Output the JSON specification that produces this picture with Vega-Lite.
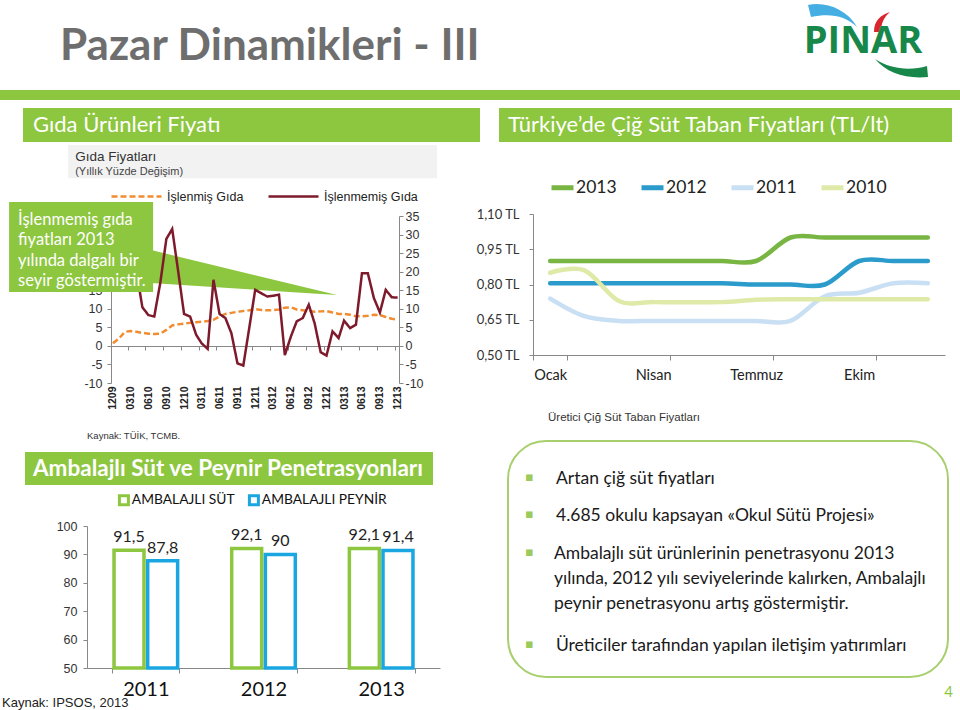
{
  "$schema": "https://vega.github.io/schema/vega-lite/v6.json",
  "padding": 0,
  "background": "white",
  "config": {
    "view": {"stroke": null},
    "concat": {"spacing": 0},
    "locale": {"number": {"decimal": ",", "thousands": ".", "grouping": [3], "currency": ["", " TL"], "minus": "-"}}
  },
  "datasets": {
    "food": [
      {"month": "2009-12-01", "islenmis": 0.7, "islenmemis": 16},
      {"month": "2010-01-01", "islenmis": 2.0, "islenmemis": 18},
      {"month": "2010-02-01", "islenmis": 3.8, "islenmemis": 22},
      {"month": "2010-03-01", "islenmis": 4.0, "islenmemis": 24},
      {"month": "2010-04-01", "islenmis": 3.8, "islenmemis": 20},
      {"month": "2010-05-01", "islenmis": 3.5, "islenmemis": 10.4},
      {"month": "2010-06-01", "islenmis": 3.3, "islenmemis": 8.3},
      {"month": "2010-07-01", "islenmis": 3.2, "islenmemis": 7.9},
      {"month": "2010-08-01", "islenmis": 3.3, "islenmemis": 17},
      {"month": "2010-09-01", "islenmis": 4.3, "islenmemis": 28.8},
      {"month": "2010-10-01", "islenmis": 5.5, "islenmemis": 31.5},
      {"month": "2010-11-01", "islenmis": 5.8, "islenmemis": 20},
      {"month": "2010-12-01", "islenmis": 6.0, "islenmemis": 8.6},
      {"month": "2011-01-01", "islenmis": 6.2, "islenmemis": 7.9},
      {"month": "2011-02-01", "islenmis": 6.4, "islenmemis": 3.0},
      {"month": "2011-03-01", "islenmis": 6.5, "islenmemis": 0.7},
      {"month": "2011-04-01", "islenmis": 6.7, "islenmemis": -0.8},
      {"month": "2011-05-01", "islenmis": 7.0, "islenmemis": 17.8},
      {"month": "2011-06-01", "islenmis": 7.9, "islenmemis": 8.6},
      {"month": "2011-07-01", "islenmis": 8.6, "islenmemis": 7.5},
      {"month": "2011-08-01", "islenmis": 8.9, "islenmemis": 3.4},
      {"month": "2011-09-01", "islenmis": 9.2, "islenmemis": -4.7},
      {"month": "2011-10-01", "islenmis": 9.4, "islenmemis": -5.3},
      {"month": "2011-11-01", "islenmis": 9.6, "islenmemis": 5},
      {"month": "2011-12-01", "islenmis": 9.9, "islenmemis": 15.1},
      {"month": "2012-01-01", "islenmis": 9.7, "islenmemis": 14.2},
      {"month": "2012-02-01", "islenmis": 9.6, "islenmemis": 13.3},
      {"month": "2012-03-01", "islenmis": 9.6, "islenmemis": 13.5},
      {"month": "2012-04-01", "islenmis": 9.8, "islenmemis": 13.8},
      {"month": "2012-05-01", "islenmis": 10.3, "islenmemis": -2.5},
      {"month": "2012-06-01", "islenmis": 10.4, "islenmemis": 2.5},
      {"month": "2012-07-01", "islenmis": 9.8, "islenmemis": 6.6},
      {"month": "2012-08-01", "islenmis": 9.6, "islenmemis": 7.5},
      {"month": "2012-09-01", "islenmis": 9.4, "islenmemis": 11.1},
      {"month": "2012-10-01", "islenmis": 9.2, "islenmemis": 6.1},
      {"month": "2012-11-01", "islenmis": 9.3, "islenmemis": -1.7},
      {"month": "2012-12-01", "islenmis": 9.4, "islenmemis": -2.6},
      {"month": "2013-01-01", "islenmis": 9.0, "islenmemis": 3.9},
      {"month": "2013-02-01", "islenmis": 8.6, "islenmemis": 2.1},
      {"month": "2013-03-01", "islenmis": 8.6, "islenmemis": 6.8},
      {"month": "2013-04-01", "islenmis": 8.4, "islenmemis": 4.8},
      {"month": "2013-05-01", "islenmis": 8.0, "islenmemis": 5.7},
      {"month": "2013-06-01", "islenmis": 8.0, "islenmemis": 19.6},
      {"month": "2013-07-01", "islenmis": 8.1, "islenmemis": 19.6},
      {"month": "2013-08-01", "islenmis": 8.4, "islenmemis": 12.9},
      {"month": "2013-09-01", "islenmis": 8.3, "islenmemis": 9.0},
      {"month": "2013-10-01", "islenmis": 7.8, "islenmemis": 15.1},
      {"month": "2013-11-01", "islenmis": 7.3, "islenmemis": 13.1},
      {"month": "2013-12-01", "islenmis": 7.1, "islenmemis": 13.0}
    ],
    "milk": [
      {"year": "2013", "month": "Ocak", "price": 0.90},
      {"year": "2013", "month": "Şubat", "price": 0.90},
      {"year": "2013", "month": "Mart", "price": 0.90},
      {"year": "2013", "month": "Nisan", "price": 0.90},
      {"year": "2013", "month": "Mayıs", "price": 0.90},
      {"year": "2013", "month": "Haziran", "price": 0.90},
      {"year": "2013", "month": "Temmuz", "price": 0.90},
      {"year": "2013", "month": "Ağustos", "price": 1.00},
      {"year": "2013", "month": "Eylül", "price": 1.00},
      {"year": "2013", "month": "Ekim", "price": 1.00},
      {"year": "2013", "month": "Kasım", "price": 1.00},
      {"year": "2013", "month": "Aralık", "price": 1.00},
      {"year": "2012", "month": "Ocak", "price": 0.805},
      {"year": "2012", "month": "Şubat", "price": 0.805},
      {"year": "2012", "month": "Mart", "price": 0.805},
      {"year": "2012", "month": "Nisan", "price": 0.805},
      {"year": "2012", "month": "Mayıs", "price": 0.805},
      {"year": "2012", "month": "Haziran", "price": 0.805},
      {"year": "2012", "month": "Temmuz", "price": 0.80},
      {"year": "2012", "month": "Ağustos", "price": 0.80},
      {"year": "2012", "month": "Eylül", "price": 0.80},
      {"year": "2012", "month": "Ekim", "price": 0.90},
      {"year": "2012", "month": "Kasım", "price": 0.90},
      {"year": "2012", "month": "Aralık", "price": 0.90},
      {"year": "2011", "month": "Ocak", "price": 0.74},
      {"year": "2011", "month": "Şubat", "price": 0.665},
      {"year": "2011", "month": "Mart", "price": 0.645},
      {"year": "2011", "month": "Nisan", "price": 0.645},
      {"year": "2011", "month": "Mayıs", "price": 0.645},
      {"year": "2011", "month": "Haziran", "price": 0.645},
      {"year": "2011", "month": "Temmuz", "price": 0.645},
      {"year": "2011", "month": "Ağustos", "price": 0.645},
      {"year": "2011", "month": "Eylül", "price": 0.75},
      {"year": "2011", "month": "Ekim", "price": 0.765},
      {"year": "2011", "month": "Kasım", "price": 0.805},
      {"year": "2011", "month": "Aralık", "price": 0.805},
      {"year": "2010", "month": "Ocak", "price": 0.85},
      {"year": "2010", "month": "Şubat", "price": 0.86},
      {"year": "2010", "month": "Mart", "price": 0.73},
      {"year": "2010", "month": "Nisan", "price": 0.725},
      {"year": "2010", "month": "Mayıs", "price": 0.725},
      {"year": "2010", "month": "Haziran", "price": 0.725},
      {"year": "2010", "month": "Temmuz", "price": 0.735},
      {"year": "2010", "month": "Ağustos", "price": 0.737},
      {"year": "2010", "month": "Eylül", "price": 0.737},
      {"year": "2010", "month": "Ekim", "price": 0.737},
      {"year": "2010", "month": "Kasım", "price": 0.737},
      {"year": "2010", "month": "Aralık", "price": 0.737}
    ],
    "bars": [
      {"year": "2011", "product": "AMBALAJLI SÜT", "value": 91.5},
      {"year": "2011", "product": "AMBALAJLI PEYNİR", "value": 87.8},
      {"year": "2012", "product": "AMBALAJLI SÜT", "value": 92.1},
      {"year": "2012", "product": "AMBALAJLI PEYNİR", "value": 90},
      {"year": "2013", "product": "AMBALAJLI SÜT", "value": 92.1},
      {"year": "2013", "product": "AMBALAJLI PEYNİR", "value": 91.4}
    ]
  },
  "spacing": 0,
  "resolve": {"scale": {"color": "independent", "stroke": "independent", "strokeDash": "independent"}, "legend": {"color": "independent", "stroke": "independent", "strokeDash": "independent"}},
  "vconcat": [
    {
      "spacing": 0,
      "hconcat": [
        {"width": 60, "height": 90, "data": {"values": [{}]}, "mark": {"type": "point", "size": 0, "opacity": 0, "strokeWidth": 0}, "encoding": {}},
        {
          "width": 730, "height": 90,
          "data": {"values": [{}]},
          "mark": {"type": "text", "text": "Pazar Dinamikleri - III", "align": "left", "baseline": "alphabetic", "dy": 15, "font": "Lato", "fontSize": 44, "fontWeight": "bold", "fill": "#6E6E6E"},
          "encoding": {"x": {"datum": 0, "type": "quantitative", "scale": {"domain": [0, 1]}, "axis": null}}
        },
        {
          "width": 150, "height": 90,
          "data": {"values": [{}]},
          "layer": [
            {"mark": {"type": "point", "shape": "M-57,-40 C-40,-44 -18,-36 -8,-18 C-20,-30 -36,-32 -54,-28 Z", "size": 4, "filled": true, "fill": "#45AEE3", "strokeWidth": 0, "opacity": 1}, "encoding": {}},
            {"mark": {"type": "point", "shape": "M9,-13 C9,-25 16,-30 25,-33 C19,-28 16,-22 16,-13 Z", "size": 4, "filled": true, "fill": "#D9262E", "strokeWidth": 0, "opacity": 1}, "encoding": {}},
            {"mark": {"type": "point", "shape": "M10,14 C25,24 45,26 62,21 L63,32 C40,34 22,28 10,14 Z", "size": 4, "filled": true, "fill": "#17884A", "strokeWidth": 0, "opacity": 1}, "encoding": {}},
            {"mark": {"type": "text", "text": "PINAR", "font": "Open Sans", "fontSize": 38, "fontWeight": "bold", "fill": "#17884A", "align": "center", "baseline": "middle", "dx": -2, "dy": -3}, "encoding": {}}
          ]
        }
      ]
    },
    {"width": 960, "height": 10, "view": {"fill": "#8DC63F", "stroke": null}, "data": {"values": [{}]}, "mark": {"type": "point", "size": 0, "opacity": 0, "strokeWidth": 0}, "encoding": {}},
    {"width": 960, "height": 8, "data": {"values": [{}]}, "mark": {"type": "point", "size": 0, "opacity": 0, "strokeWidth": 0}, "encoding": {}},
    {
      "spacing": -5,
      "resolve": {"scale": {"color": "independent", "stroke": "independent", "strokeDash": "independent"}, "legend": {"color": "independent", "stroke": "independent", "strokeDash": "independent"}},
      "hconcat": [
        {
          "spacing": 0,
          "resolve": {"scale": {"color": "independent", "stroke": "independent", "strokeDash": "independent"}, "legend": {"color": "independent", "stroke": "independent", "strokeDash": "independent"}},
          "vconcat": [
            {
              "spacing": 0,
              "hconcat": [
                {"width": 23, "height": 34, "data": {"values": [{}]}, "mark": {"type": "point", "size": 0, "opacity": 0, "strokeWidth": 0}, "encoding": {}},
                {
                  "width": 457, "height": 34,
                  "view": {"fill": "#8DC63F", "stroke": null},
                  "data": {"values": [{}]},
                  "mark": {"type": "text", "text": "Gıda Ürünleri Fiyatı", "align": "left", "baseline": "middle", "dx": 10, "font": "Lato", "fontSize": 22, "fill": "white"},
                  "encoding": {"x": {"datum": 0, "type": "quantitative", "scale": {"domain": [0, 1]}, "axis": null}}
                }
              ]
            },
            {
              "width": 440, "height": 310,
              "layer": [
                {
                  "data": {"values": [{}]},
                  "mark": {"type": "rect", "fill": "#F2F2F2"},
                  "encoding": {
                    "x": {"datum": {"year": 2009, "month": 4, "date": 15, "utc": true}, "type": "temporal", "axis": null},
                    "x2": {"datum": {"year": 2014, "month": 6, "date": 21, "utc": true}},
                    "y": {"datum": 54.1, "type": "quantitative", "axis": null},
                    "y2": {"datum": 45.2}
                  }
                },
                {
                  "data": {"values": [{}]},
                  "mark": {"type": "text", "text": "Gıda Fiyatları", "align": "left", "baseline": "middle", "dx": 7, "font": "Liberation Sans", "fontSize": 13.5, "fill": "#333333"},
                  "encoding": {
                    "x": {"datum": {"year": 2009, "month": 4, "date": 15, "utc": true}, "type": "temporal", "axis": null},
                    "y": {"datum": 50.9, "type": "quantitative", "axis": null}
                  }
                },
                {
                  "data": {"values": [{}]},
                  "mark": {"type": "text", "text": "(Yıllık Yüzde Değişim)", "align": "left", "baseline": "middle", "dx": 7, "font": "Liberation Sans", "fontSize": 11, "fill": "#444444"},
                  "encoding": {
                    "x": {"datum": {"year": 2009, "month": 4, "date": 15, "utc": true}, "type": "temporal", "axis": null},
                    "y": {"datum": 46.86, "type": "quantitative", "axis": null}
                  }
                },
                {
                  "data": {"values": [{}]},
                  "mark": {"type": "text", "text": "Kaynak: TÜİK, TCMB.", "align": "left", "baseline": "middle", "font": "Liberation Sans", "fontSize": 9.5, "fill": "#333333"},
                  "encoding": {
                    "x": {"datum": {"year": 2009, "month": 7, "date": 21, "utc": true}, "type": "temporal", "axis": null},
                    "y": {"datum": -24.3, "type": "quantitative", "axis": null}
                  }
                },
                {
                  "data": {"values": [{}]},
                  "mark": {"type": "point", "shape": "M0,0 L-186,-45 L-186,-12 Z", "size": 4, "filled": true, "fill": "#8DC63F", "strokeWidth": 0, "opacity": 1},
                  "encoding": {
                    "x": {"datum": {"year": 2013, "month": 1, "date": 24, "utc": true}, "type": "temporal", "axis": null},
                    "y": {"datum": 13.7, "type": "quantitative", "axis": null}
                  }
                },
                {
                  "data": {"name": "food"},
                  "mark": {"type": "line", "strokeWidth": 2.5},
                  "encoding": {
                    "x": {
                      "field": "month", "type": "temporal",
                      "scale": {"type": "utc", "nice": false, "range": [111, 399], "domain": [{"year": 2009, "month": 11, "date": 21, "utc": true}, {"year": 2013, "month": 12, "date": 8, "utc": true}]},
                      "axis": {
                        "orient": "bottom", "offset": -69, "title": null, "grid": false, "domain": false, "ticks": false,
                        "values": [
                          {"year": 2009, "month": 12, "date": 1, "utc": true},
                          {"year": 2010, "month": 3, "date": 1, "utc": true},
                          {"year": 2010, "month": 6, "date": 1, "utc": true},
                          {"year": 2010, "month": 9, "date": 1, "utc": true},
                          {"year": 2010, "month": 12, "date": 1, "utc": true},
                          {"year": 2011, "month": 3, "date": 1, "utc": true},
                          {"year": 2011, "month": 6, "date": 1, "utc": true},
                          {"year": 2011, "month": 9, "date": 1, "utc": true},
                          {"year": 2011, "month": 12, "date": 1, "utc": true},
                          {"year": 2012, "month": 3, "date": 1, "utc": true},
                          {"year": 2012, "month": 6, "date": 1, "utc": true},
                          {"year": 2012, "month": 9, "date": 1, "utc": true},
                          {"year": 2012, "month": 12, "date": 1, "utc": true},
                          {"year": 2013, "month": 3, "date": 1, "utc": true},
                          {"year": 2013, "month": 6, "date": 1, "utc": true},
                          {"year": 2013, "month": 9, "date": 1, "utc": true},
                          {"year": 2013, "month": 12, "date": 1, "utc": true}
                        ],
                        "labelExpr": "utcFormat(datum.value, '%m%y')", "labelAngle": -90, "labelPadding": 3, "labelOverlap": false, "labelFlush": false,
                        "labelFont": "Liberation Sans", "labelFontSize": 10.5, "labelFontWeight": "bold", "labelColor": "#222222"
                      }
                    },
                    "y": {
                      "field": "islenmis", "type": "quantitative",
                      "scale": {"domain": [-10, 35], "range": [241, 74], "nice": false, "zero": false},
                      "axis": {"orient": "left", "offset": -111, "title": null, "grid": false, "values": [-10, -5, 0, 5, 10, 15, 20, 25, 30, 35], "labelExpr": "datum.value > 15 ? '' : datum.label", "domainColor": "#888888", "tickColor": "#888888", "tickSize": 4, "labelPadding": 5, "labelFont": "Liberation Sans", "labelFontSize": 12.5, "labelColor": "#333333"}
                    },
                    "color": {
                      "datum": "İşlenmiş Gıda",
                      "scale": {"domain": ["İşlenmiş Gıda", "İşlenmemiş Gıda"], "range": ["#F28C30", "#7D1A2C"]},
                      "legend": {"orient": "none", "legendX": 110, "legendY": 28, "direction": "horizontal", "title": null, "symbolType": "stroke", "symbolSize": 2500, "symbolStrokeWidth": 2.5, "labelFont": "Liberation Sans", "labelFontSize": 12.5, "labelColor": "#222222", "labelOffset": 4, "columnPadding": 19}
                    },
                    "strokeDash": {
                      "datum": "İşlenmiş Gıda",
                      "scale": {"domain": ["İşlenmiş Gıda", "İşlenmemiş Gıda"], "range": [[6, 3], [1, 0]]},
                      "legend": {"orient": "none", "legendX": 110, "legendY": 28, "direction": "horizontal", "title": null, "symbolType": "stroke", "symbolSize": 2500, "symbolStrokeWidth": 2.5, "labelFont": "Liberation Sans", "labelFontSize": 12.5, "labelColor": "#222222", "labelOffset": 4, "columnPadding": 19}
                    }
                  }
                },
                {
                  "data": {"name": "food"},
                  "mark": {"type": "line", "strokeWidth": 2.5},
                  "encoding": {
                    "x": {
                      "field": "month", "type": "temporal",
                      "axis": {
                        "orient": "bottom", "offset": -106, "title": null, "grid": false, "labels": false, "domain": true, "ticks": true,
                        "domainColor": "#888888", "tickColor": "#888888", "tickSize": 4,
                        "values": [
                          {"year": 2010, "month": 2, "date": 15, "utc": true},
                          {"year": 2010, "month": 5, "date": 16, "utc": true},
                          {"year": 2010, "month": 8, "date": 16, "utc": true},
                          {"year": 2010, "month": 11, "date": 16, "utc": true},
                          {"year": 2011, "month": 2, "date": 15, "utc": true},
                          {"year": 2011, "month": 5, "date": 16, "utc": true},
                          {"year": 2011, "month": 8, "date": 16, "utc": true},
                          {"year": 2011, "month": 11, "date": 16, "utc": true},
                          {"year": 2012, "month": 2, "date": 15, "utc": true},
                          {"year": 2012, "month": 5, "date": 16, "utc": true},
                          {"year": 2012, "month": 8, "date": 16, "utc": true},
                          {"year": 2012, "month": 11, "date": 16, "utc": true},
                          {"year": 2013, "month": 2, "date": 15, "utc": true},
                          {"year": 2013, "month": 5, "date": 16, "utc": true},
                          {"year": 2013, "month": 8, "date": 16, "utc": true},
                          {"year": 2013, "month": 11, "date": 16, "utc": true}
                        ]
                      }
                    },
                    "y": {
                      "field": "islenmemis", "type": "quantitative",
                      "axis": {"orient": "right", "offset": -41, "title": null, "grid": false, "values": [-10, -5, 0, 5, 10, 15, 20, 25, 30, 35], "domainColor": "#888888", "tickColor": "#888888", "tickSize": 4, "labelPadding": 2, "labelFont": "Liberation Sans", "labelFontSize": 12.5, "labelColor": "#333333"}
                    },
                    "color": {"datum": "İşlenmemiş Gıda"},
                    "strokeDash": {"datum": "İşlenmemiş Gıda"}
                  }
                },
                {
                  "data": {"values": [{}]},
                  "mark": {"type": "rect", "fill": "#8DC63F"},
                  "encoding": {
                    "x": {"datum": {"year": 2008, "month": 6, "date": 16, "utc": true}, "type": "temporal", "axis": null},
                    "x2": {"datum": {"year": 2010, "month": 6, "date": 25, "utc": true}},
                    "y": {"datum": 38.77, "type": "quantitative", "axis": null},
                    "y2": {"datum": 14.52}
                  }
                },
                {
                  "data": {"values": [{}]},
                  "mark": {"type": "text", "text": ["İşlenmemiş gıda", "fiyatları 2013", "yılında dalgalı bir", "seyir göstermiştir."], "align": "left", "baseline": "middle", "dx": 9, "lineHeight": 20.5, "font": "Lato", "fontSize": 16.5, "fill": "white"},
                  "encoding": {
                    "x": {"datum": {"year": 2008, "month": 6, "date": 16, "utc": true}, "type": "temporal", "axis": null},
                    "y": {"datum": 33.95, "type": "quantitative", "axis": null}
                  }
                }
              ],
              "resolve": {"axis": {"x": "independent", "y": "independent"}}
            },
            {
              "spacing": 0,
              "hconcat": [
                {"width": 25, "height": 33, "data": {"values": [{}]}, "mark": {"type": "point", "size": 0, "opacity": 0, "strokeWidth": 0}, "encoding": {}},
                {
                  "width": 408, "height": 33,
                  "view": {"fill": "#8DC63F", "stroke": null},
                  "data": {"values": [{}]},
                  "mark": {"type": "text", "text": "Ambalajlı Süt ve Peynir Penetrasyonları", "align": "left", "baseline": "middle", "dx": 8, "font": "Lato", "fontSize": 22.5, "fontWeight": "bold", "fill": "white"},
                  "encoding": {"x": {"datum": 0, "type": "quantitative", "scale": {"domain": [0, 1]}, "axis": null}}
                }
              ]
            },
            {
              "width": 440, "height": 225,
              "data": {"name": "bars"},
              "title": {"text": "Kaynak: IPSOS, 2013", "orient": "bottom", "anchor": "start", "frame": "group", "dx": 2, "offset": -13, "font": "Liberation Sans", "fontSize": 13, "fontWeight": "normal", "color": "#222222"},
              "encoding": {
                "x": {
                  "field": "year", "type": "nominal",
                  "scale": {"range": [87, 440], "paddingInner": 0.428, "paddingOuter": 0.214},
                  "axis": {"title": null, "offset": -42, "labelAngle": 0, "tickBand": "extent", "domainColor": "#888888", "tickColor": "#888888", "tickSize": 5, "labelPadding": 6, "labelFont": "Lato", "labelFontSize": 20, "labelColor": "#111111"}
                },
                "xOffset": {"field": "product", "type": "nominal", "sort": ["AMBALAJLI SÜT", "AMBALAJLI PEYNİR"], "scale": {"paddingInner": 0.11, "paddingOuter": 0.055}},
                "y": {
                  "field": "value", "type": "quantitative",
                  "scale": {"domain": [50, 100], "range": [183, 41], "nice": false, "zero": false},
                  "axis": {"title": null, "offset": -87, "grid": false, "values": [50, 60, 70, 80, 90, 100], "domainColor": "#888888", "tickColor": "#888888", "tickSize": 4, "labelPadding": 6, "labelFont": "Liberation Sans", "labelFontSize": 12.5, "labelColor": "#333333"}
                }
              },
              "layer": [
                {
                  "mark": {"type": "bar", "fill": "white", "strokeWidth": 3.5},
                  "encoding": {
                    "y2": {"datum": 50},
                    "stroke": {
                      "field": "product", "type": "nominal",
                      "scale": {"domain": ["AMBALAJLI SÜT", "AMBALAJLI PEYNİR"], "range": ["#8DC63F", "#1AA7E1"]},
                      "legend": {"orient": "none", "legendX": 117, "legendY": 8, "direction": "horizontal", "title": null, "symbolType": "square", "symbolSize": 81, "symbolStrokeWidth": 3, "symbolFillColor": "white", "labelFont": "Lato", "labelFontSize": 13.8, "labelColor": "#111111", "labelOffset": 1, "columnPadding": 8}
                    }
                  }
                },
                {
                  "mark": {"type": "text", "dy": -13, "baseline": "middle", "font": "Lato", "fontSize": 16, "fill": "#222222"},
                  "encoding": {"text": {"field": "value", "type": "quantitative", "format": ".1~f"}}
                }
              ]
            }
          ]
        },
        {
          "spacing": 0,
          "resolve": {"scale": {"color": "independent", "stroke": "independent", "strokeDash": "independent"}, "legend": {"color": "independent", "stroke": "independent", "strokeDash": "independent"}},
          "vconcat": [
            {
              "width": 453, "height": 34,
              "view": {"fill": "#8DC63F", "stroke": null},
              "data": {"values": [{}]},
              "mark": {"type": "text", "text": "Türkiye’de Çiğ Süt Taban Fiyatları (TL/lt)", "align": "left", "baseline": "middle", "dx": 9, "font": "Lato", "fontSize": 22, "fill": "white"},
              "encoding": {"x": {"datum": 0, "type": "quantitative", "scale": {"domain": [0, 1]}, "axis": null}}
            },
            {
              "width": 453, "height": 298,
              "data": {"name": "milk"},
              "title": {"text": "Üretici Çiğ Süt Taban Fiyatları", "orient": "bottom", "anchor": "start", "frame": "group", "dx": 49, "offset": -28, "font": "Liberation Sans", "fontSize": 11.5, "fontWeight": "normal", "color": "#333333"},
              "mark": {"type": "line", "interpolate": "cardinal", "strokeWidth": 4.5, "strokeCap": "round"},
              "encoding": {
                "x": {
                  "field": "month", "type": "ordinal",
                  "scale": {"type": "band", "range": [34, 446], "domain": ["Ocak", "Şubat", "Mart", "Nisan", "Mayıs", "Haziran", "Temmuz", "Ağustos", "Eylül", "Ekim", "Kasım", "Aralık"], "paddingInner": 0, "paddingOuter": 0},
                  "axis": {"title": null, "offset": -85, "values": ["Ocak", "Nisan", "Temmuz", "Ekim"], "labelAngle": 0, "tickBand": "extent", "domainColor": "#888888", "tickColor": "#888888", "tickSize": 5, "labelPadding": 8, "labelFont": "Lato", "labelFontSize": 14.5, "labelColor": "#222222"}
                },
                "y": {
                  "field": "price", "type": "quantitative",
                  "scale": {"domain": [0.5, 1.1], "range": [213, 72], "nice": false, "zero": false},
                  "axis": {"title": null, "offset": -34, "grid": false, "values": [0.5, 0.65, 0.8, 0.95, 1.1], "format": "$.2f", "domainColor": "#888888", "tickColor": "#888888", "tickSize": 4, "labelPadding": 10, "labelFont": "Lato", "labelFontSize": 13, "labelColor": "#333333"}
                },
                "color": {
                  "field": "year", "type": "nominal",
                  "scale": {"domain": ["2013", "2012", "2011", "2010"], "range": ["#78B543", "#2A9BCB", "#C9DFF3", "#DFEAA8"]},
                  "legend": {"orient": "none", "legendX": 50, "legendY": 32, "direction": "horizontal", "title": null, "symbolType": "stroke", "symbolSize": 484, "symbolStrokeWidth": 5, "labelFont": "Lato", "labelFontSize": 17.5, "labelColor": "#222222", "labelOffset": 0, "columnPadding": 14}
                }
              }
            },
            {
              "spacing": 0,
              "hconcat": [
                {"width": 8, "height": 236, "data": {"values": [{}]}, "mark": {"type": "point", "size": 0, "opacity": 0, "strokeWidth": 0}, "encoding": {}},
                {
                  "width": 440, "height": 236,
                  "view": {"fill": "white", "stroke": "#A8CF6E", "strokeWidth": 2, "cornerRadius": 38},
                  "title": {"text": "4", "orient": "bottom", "anchor": "end", "frame": "group", "dx": 5, "offset": 8, "font": "Lato", "fontSize": 15, "fontWeight": "normal", "color": "#8DC63F"},
                  "data": {"values": [{}]},
                  "encoding": {"x": {"datum": 0, "type": "quantitative", "scale": {"domain": [0, 1]}, "axis": null}},
                  "layer": [
                    {"mark": {"type": "text", "text": "▪", "align": "left", "baseline": "middle", "dx": 17, "dy": -82, "font": "DejaVu Sans", "fontSize": 13, "fill": "#9BCB5B"}},
                    {"mark": {"type": "text", "text": "▪", "align": "left", "baseline": "middle", "dx": 17, "dy": -45, "font": "DejaVu Sans", "fontSize": 13, "fill": "#9BCB5B"}},
                    {"mark": {"type": "text", "text": "▪", "align": "left", "baseline": "middle", "dx": 17, "dy": -7, "font": "DejaVu Sans", "fontSize": 13, "fill": "#9BCB5B"}},
                    {"mark": {"type": "text", "text": "▪", "align": "left", "baseline": "middle", "dx": 17, "dy": 85, "font": "DejaVu Sans", "fontSize": 13, "fill": "#9BCB5B"}},
                    {"mark": {"type": "text", "text": "Artan çiğ süt fiyatları", "align": "left", "baseline": "middle", "dx": 48, "dy": -80, "font": "Lato", "fontSize": 17.5, "fill": "#1A1A1A"}},
                    {"mark": {"type": "text", "text": "4.685 okulu kapsayan «Okul Sütü Projesi»", "align": "left", "baseline": "middle", "dx": 48, "dy": -43, "font": "Lato", "fontSize": 17.5, "fill": "#1A1A1A"}},
                    {"mark": {"type": "text", "text": ["Ambalajlı süt ürünlerinin penetrasyonu 2013", "yılında, 2012 yılı seviyelerinde kalırken, Ambalajlı", "peynir penetrasyonu artış göstermiştir."], "lineHeight": 25, "align": "left", "baseline": "middle", "dx": 46, "dy": -5, "font": "Lato", "fontSize": 17.5, "fill": "#1A1A1A"}},
                    {"mark": {"type": "text", "text": "Üreticiler tarafından yapılan iletişim yatırımları", "align": "left", "baseline": "middle", "dx": 48, "dy": 87, "font": "Lato", "fontSize": 17.5, "fill": "#1A1A1A"}}
                  ]
                }
              ]
            }
          ]
        }
      ]
    }
  ]
}
